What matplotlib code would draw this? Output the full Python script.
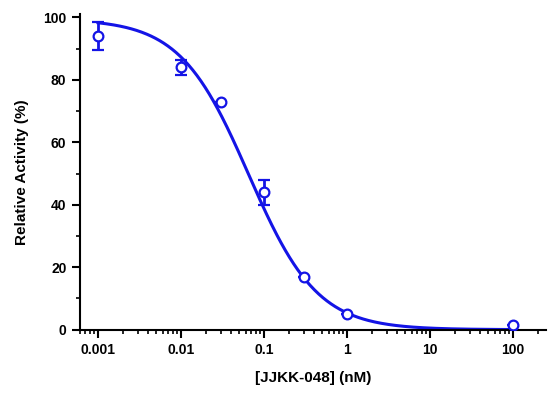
import numpy as np
import matplotlib
matplotlib.use("Agg")
import matplotlib.pyplot as plt
from matplotlib.ticker import LogLocator, MultipleLocator, FixedLocator

conc = [0.001, 0.01, 0.03, 0.1, 0.3, 1, 100]
activity = [94, 84, 73, 44, 17, 5, 1.5]
err = [4.5, 2.5, 0, 4, 0, 0, 0]
top, bottom, ic50, hill = 99.5, 0.0, 0.065, 1.05

plt.rcParams['font.family'] = ['Liberation Sans', 'DejaVu Sans']
plt.rcParams['font.weight'] = 'bold'
fig = plt.figure(figsize=(5.49, 4.07), dpi=100)
ax = fig.add_axes([0.145, 0.19, 0.85, 0.775])
blue = '#1414e6'
xs = np.logspace(np.log10(0.001), np.log10(100), 400)
ax.plot(xs, bottom + (top - bottom) / (1 + (xs / ic50) ** hill), color=blue, lw=2.2)
ax.errorbar(conc, activity, yerr=err, fmt='o', mfc='white', mec=blue, mew=1.6,
            ms=7, ecolor=blue, elinewidth=2, capsize=4, capthick=2, zorder=3)
ax.set_xscale('log')
ax.set_xlim(0.0006, 250)
ax.set_ylim(0, 101)
ax.xaxis.set_major_locator(FixedLocator([0.001, 0.01, 0.1, 1, 10, 100]))
ax.set_xticklabels(['0.001', '0.01', '0.1', '1', '10', '100'])
ax.xaxis.set_minor_locator(LogLocator(subs=np.arange(2, 10)))
ax.yaxis.set_major_locator(MultipleLocator(20))
ax.yaxis.set_minor_locator(MultipleLocator(10))
for s in ['top', 'right']:
    ax.spines[s].set_visible(False)
for s in ['left', 'bottom']:
    ax.spines[s].set_linewidth(1.5)
ax.tick_params(which='major', width=1.5, length=6, labelsize=10)
ax.tick_params(which='minor', width=1.2, length=3)
ax.set_xlabel('[JJKK-048] (nM)', fontsize=11, fontweight='bold', labelpad=10)
ax.set_ylabel('Relative Activity (%)', fontsize=11, fontweight='bold', labelpad=10)
fig.savefig('out.png', dpi=100)
